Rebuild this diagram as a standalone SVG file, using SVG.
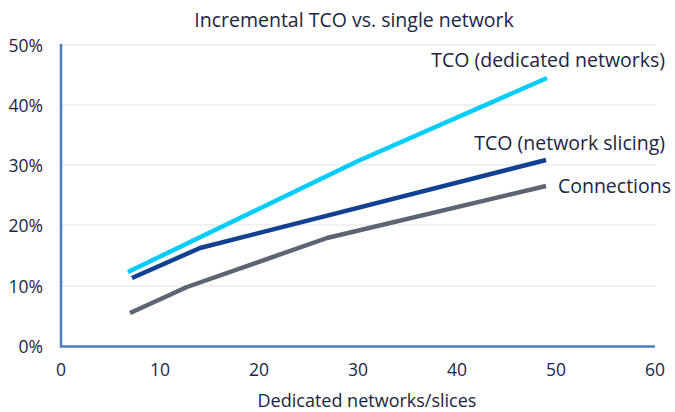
<svg xmlns="http://www.w3.org/2000/svg" width="675" height="412" viewBox="0 0 675 412">
  <style>
    text { font-family: "Open Sans", "Noto Sans", sans-serif; fill: #1c2541; }
    .title { font-size: 19.5px; text-anchor: middle; }
    .tick { font-size: 17.5px; }
    .ytick { text-anchor: end; }
    .xtick { text-anchor: middle; }
    .axis-title { font-size: 18px; text-anchor: middle; }
    .series-label { font-size: 19.5px; text-anchor: end; }
    .grid { stroke: #ececec; stroke-width: 1.5; }
    .axis { stroke: #4a7fc3; stroke-width: 2.5; fill: none; }
    .series { fill: none; stroke-width: 4.5; stroke-linejoin: round; }
  </style>
  <rect width="675" height="412" fill="#ffffff"/>

  <text class="title" x="354" y="27">Incremental TCO vs. single network</text>

  <!-- horizontal gridlines -->
  <g id="grid">
    <line class="grid" x1="62" y1="45" x2="656" y2="45"/>
    <line class="grid" x1="62" y1="105" x2="656" y2="105"/>
    <line class="grid" x1="62" y1="165" x2="656" y2="165"/>
    <line class="grid" x1="62" y1="225" x2="656" y2="225"/>
    <line class="grid" x1="62" y1="286" x2="656" y2="286"/>
  </g>

  <!-- axes -->
  <g id="axes">
    <polyline class="axis" points="61,44 61,346.5 655,346.5"/>
  </g>

  <!-- y tick labels -->
  <g id="y-ticks">
    <text class="tick ytick" x="43" y="52">50%</text>
    <text class="tick ytick" x="43" y="112">40%</text>
    <text class="tick ytick" x="43" y="172">30%</text>
    <text class="tick ytick" x="43" y="232">20%</text>
    <text class="tick ytick" x="43" y="293">10%</text>
    <text class="tick ytick" x="43" y="353">0%</text>
  </g>

  <!-- x tick labels -->
  <g id="x-ticks">
    <text class="tick xtick" x="61" y="376">0</text>
    <text class="tick xtick" x="160" y="376">10</text>
    <text class="tick xtick" x="259" y="376">20</text>
    <text class="tick xtick" x="358" y="376">30</text>
    <text class="tick xtick" x="457" y="376">40</text>
    <text class="tick xtick" x="556" y="376">50</text>
    <text class="tick xtick" x="655" y="376">60</text>
  </g>

  <text class="axis-title" x="367" y="407">Dedicated networks/slices</text>

  <!-- data series -->
  <g id="connectors">
    <polyline id="series-dedicated" class="series" stroke="#00ccff" points="128,272 358,161 547,78"/>
    <polyline id="series-slicing" class="series" stroke="#124191" points="132,278 200,248 546,160"/>
    <polyline id="series-connections" class="series" stroke="#5b6672" points="130,313 187,287 327,238 546,186"/>
  </g>

  <!-- series labels -->
  <g id="label-dedicated">
    <text class="series-label" x="665" y="67">TCO (dedicated networks)</text>
  </g>
  <g id="label-slicing">
    <text class="series-label" x="665" y="150">TCO (network slicing)</text>
  </g>
  <g id="label-connections">
    <text class="series-label" x="671" y="193">Connections</text>
  </g>
</svg>
